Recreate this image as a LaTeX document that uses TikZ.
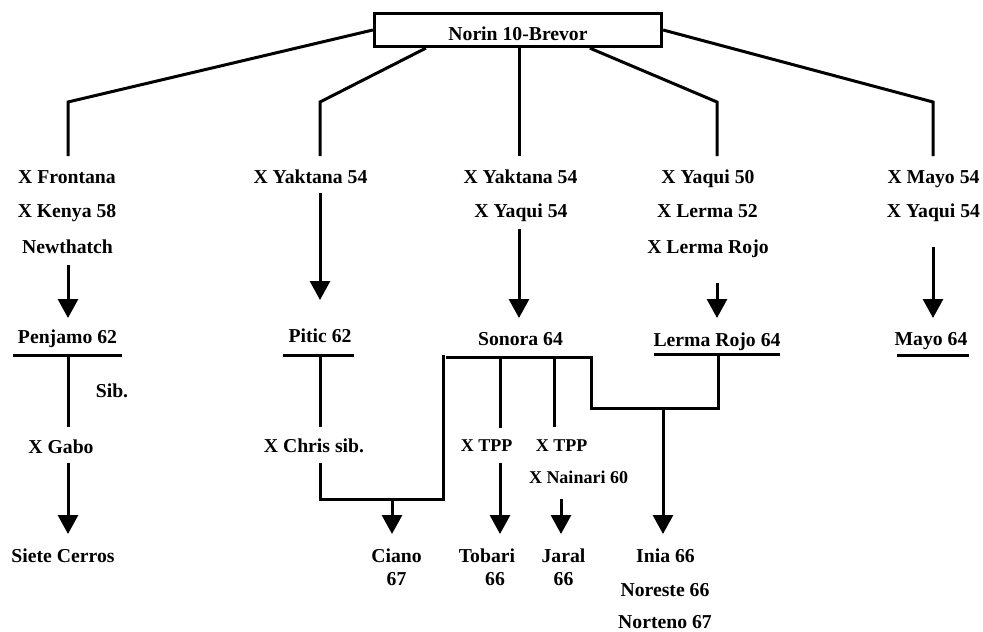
\documentclass[tikz,border=0pt]{standalone}
\usepackage{fontspec}
\setmainfont{Liberation Serif}
\usetikzlibrary{arrows.meta}
\begin{document}
\begin{tikzpicture}[x=1pt,y=-1pt,
  lbl/.style={font=\bfseries\fontsize{19.7}{22}\selectfont, anchor=base, inner sep=0pt},
  sml/.style={font=\bfseries\fontsize{18}{20}\selectfont, anchor=base, inner sep=0pt},
  ln/.style={line width=3pt},
  arr/.style={line width=3pt, -{Triangle[width=20pt,length=19pt]}},
  box/.style={draw, line width=3.3pt, minimum width=287pt, minimum height=33pt, inner sep=0pt},
]
\useasboundingbox (0,0) rectangle (983,632);
% root
\node[box] (root) at (518,30) {};
\node[lbl] (roottxt) at (518,40) {Norin 10-Brevor};

% column 1
\node[lbl] (f1) at (67,183.5) {X Frontana};
\node[lbl] (f2) at (67,217.5) {X Kenya 58};
\node[lbl] (f3) at (67.5,253) {Newthatch};
\node[lbl] (penj) at (67.5,343) {Penjamo 62};
\node[lbl] (sib) at (112,397) {Sib.};
\node[lbl] (gabo) at (61,453) {X Gabo};
\node[lbl] (siete) at (63,562) {Siete Cerros};

% column 2
\node[lbl] (y1) at (310.5,183.5) {X Yaktana 54};
\node[lbl] (pitic) at (320,342) {Pitic 62};
\node[lbl] (chris) at (314,452) {X Chris sib.};
\node[lbl] (ciano) at (396.5,562) {Ciano};
\node[lbl] (ciano2) at (396.5,585) {67};

% column 3
\node[lbl] (y2) at (520.5,183.5) {X Yaktana 54};
\node[lbl] (q2) at (521,217.5) {X Yaqui 54};
\node[lbl] (sonora) at (520.5,345) {Sonora 64};
\node[sml] (tpp1) at (486.5,451) {X TPP};
\node[sml] (tpp2) at (561.5,451) {X TPP};
\node[sml] (nain) at (578.5,483) {X Nainari 60};
\node[lbl] (tobari) at (487,562) {Tobari};
\node[lbl] (tobari2) at (495,585) {66};
\node[lbl] (jaral) at (563.5,562) {Jaral};
\node[lbl] (jaral2) at (563.5,585) {66};
\node[lbl] (inia) at (665.5,562) {Inia 66};
\node[lbl] (nores) at (665,596.5) {Noreste 66};
\node[lbl] (norte) at (665,628) {Norteno 67};

% column 4
\node[lbl] (q3) at (708,183.5) {X Yaqui 50};
\node[lbl] (l3) at (707.5,217.5) {X Lerma 52};
\node[lbl] (lr3) at (708,253) {X Lerma Rojo};
\node[lbl] (lerma) at (717,346) {Lerma Rojo 64};

% column 5
\node[lbl] (m5) at (933.5,183.5) {X Mayo 54};
\node[lbl] (q5) at (933.5,217.5) {X Yaqui 54};
\node[lbl] (mayo) at (931,345) {Mayo 64};

% coordinates for connectors
\coordinate (k1a) at (68,102);  \coordinate (k1b) at (68,156);
\coordinate (k2a) at (320,102); \coordinate (k2b) at (320,156);
\coordinate (k3b) at (519,156);
\coordinate (k4a) at (717,102); \coordinate (k4b) at (717,156);
\coordinate (k5a) at (933,102); \coordinate (k5b) at (933,156);

% root connectors
\draw[ln] (root.west) -- (k1a) -- (k1b);
\draw[ln] ([xshift=53pt]root.south west) -- (k2a) -- (k2b);
\draw[ln] (root.south -| k3b) -- (k3b);
\draw[ln] ([xshift=217pt]root.south west) -- (k4a) -- (k4b);
\draw[ln] (root.east) -- (k5a) -- (k5b);

% arrows to second generation
\draw[arr] (68,265) -- (68,318);
\draw[arr] (320,193) -- (320,300);
\draw[arr] (519,229) -- (519,318);
\draw[arr] (717,283) -- (717,318);
\draw[arr] (933,247) -- (933,318);

% underlines
\draw[ln] (13,355) coordinate (u1a) -- (122,355) coordinate (u1b);
\draw[ln] (283,355) coordinate (u2a) -- (354,355) coordinate (u2b);
\draw[ln] (654,354) coordinate (u4a) -- (780,354) coordinate (u4b);
\draw[ln] (897,355) coordinate (u5a) -- (969,355) coordinate (u5b);

% column 1 lower
\draw[ln] (68,355) -- (68,427);
\draw[arr] (68,463) -- (68,534);

% column 2 lower and Sonora bracket
\draw[ln] (320,355) -- (320,427);
\draw[ln] (320,463) -- (320,499) coordinate (cj) -- (443,499) -- (443,355);
\draw[ln] (446,357) -- (591,357) -- (591,408) -- (718,408) -- (718,354);
\draw[arr] (392,499) -- (392,534);

% TPP branches
\draw[ln] (500,357) -- (500,428);
\draw[ln] (554,357) -- (554,427);
\draw[arr] (500,463) -- (500,534);
\draw[arr] (561,499) -- (561,534);

% Inia
\draw[arr] (663,408) -- (663,534);
\end{tikzpicture}
\end{document}
